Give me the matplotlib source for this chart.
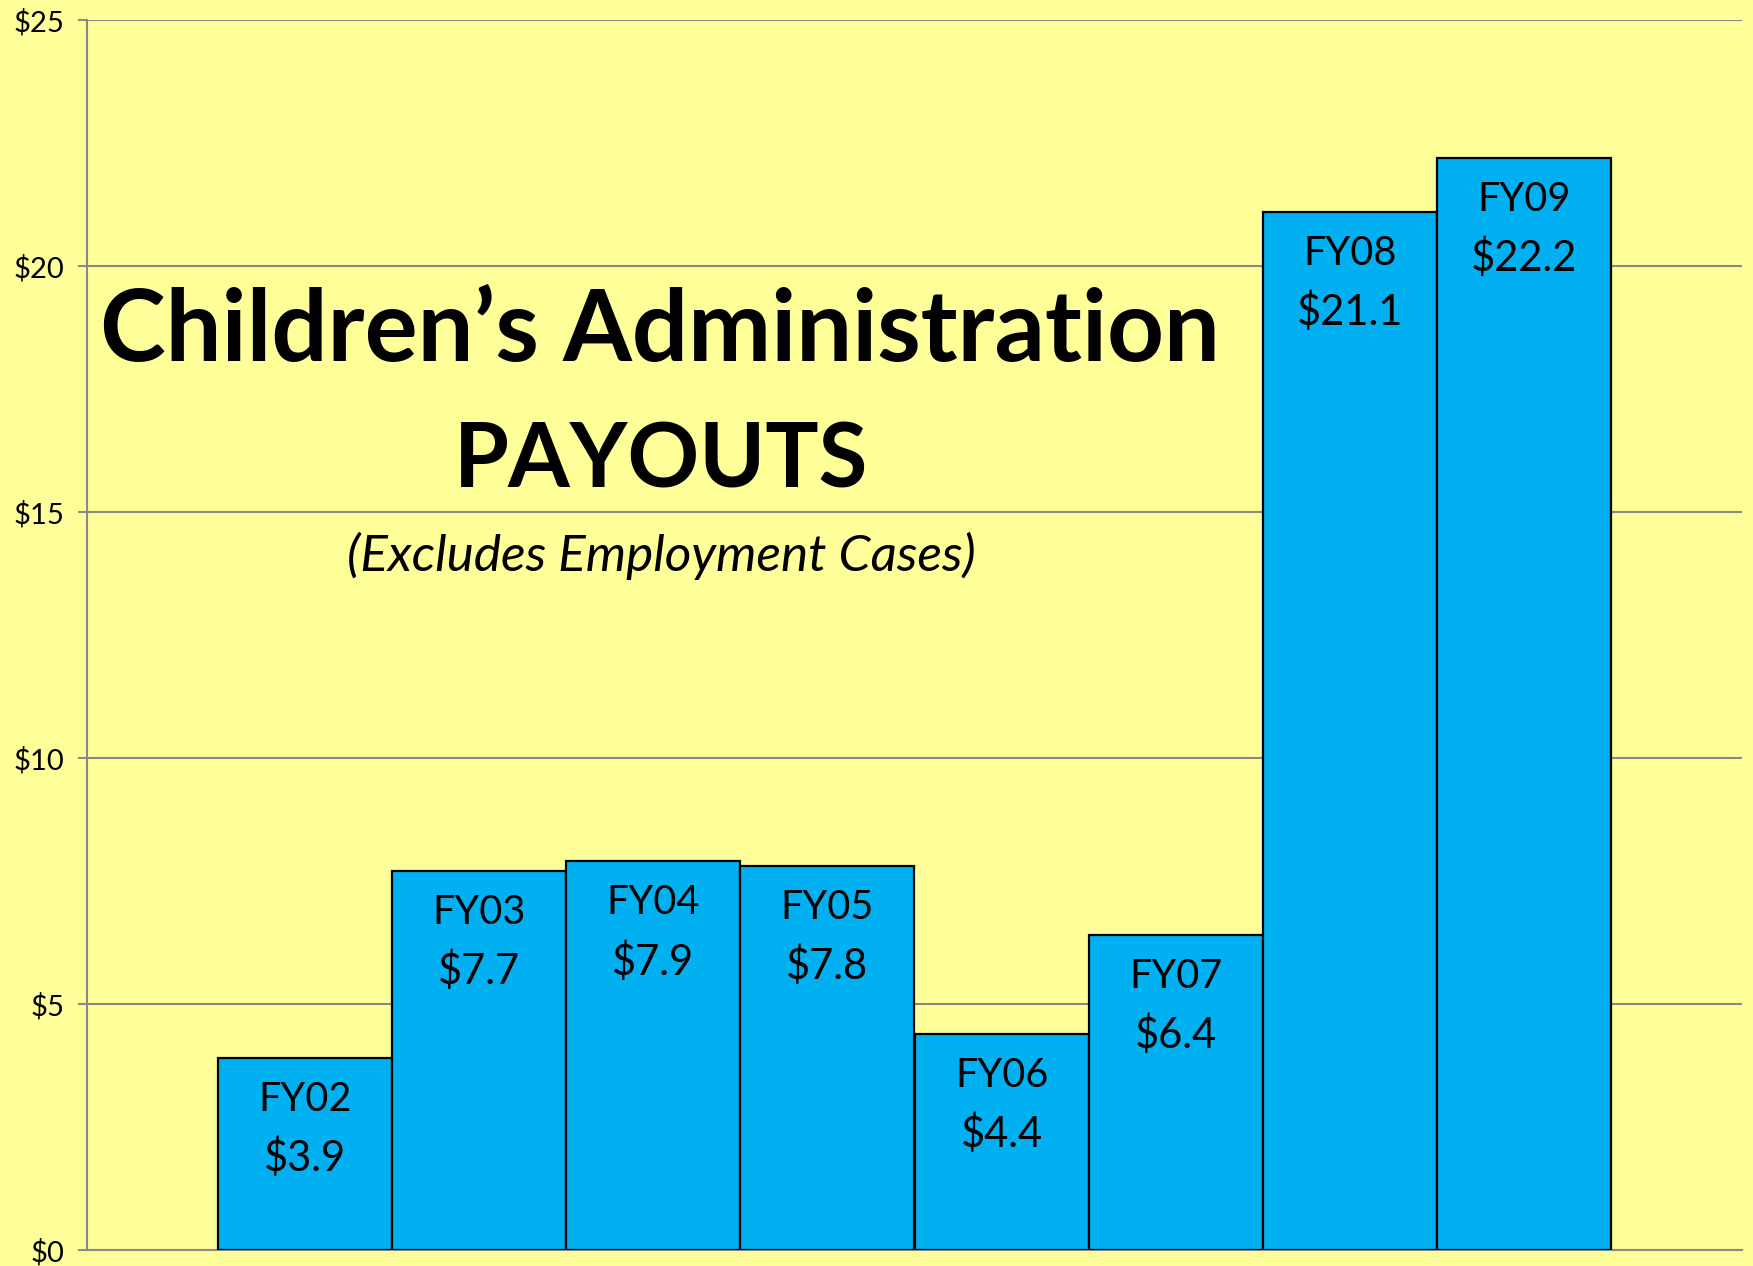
import matplotlib
matplotlib.use('Agg')
import matplotlib.pyplot as plt
from matplotlib.ticker import FuncFormatter

# data
years = ['FY02', 'FY03', 'FY04', 'FY05', 'FY06', 'FY07', 'FY08', 'FY09']
payouts = [3.9, 7.7, 7.9, 7.8, 4.4, 6.4, 21.1, 22.2]
y_ticks = [0, 5, 10, 15, 20, 25]

BG = '#FFFF99'
BAR = '#00B0F0'
GRID = '#898989'

plt.rcParams['font.family'] = ['Lato', 'DejaVu Sans']

fig = plt.figure(figsize=(17.53, 12.66), dpi=100, facecolor=BG)
ax = fig.add_axes([87 / 1753, 16 / 1266, (1742 - 87) / 1753, (1250 - 20) / 1266])
ax.set_facecolor(BG)

x = range(len(years))
ax.bar(x, payouts, width=1.0, color=BAR, edgecolor='black', linewidth=1.6, zorder=3)

for i, (lab, val) in enumerate(zip(years, payouts)):
    ax.annotate(lab, (i, val), xytext=(0, -30), textcoords='offset points',
                ha='center', va='center', fontsize=28.5, zorder=4)
    ax.annotate(f'${val:.1f}', (i, val), xytext=(0, -72), textcoords='offset points',
                ha='center', va='center', fontsize=30, zorder=4)

ax.set_xlim(-1.25, 8.25)
ax.set_ylim(0, 25)
ax.set_yticks(y_ticks)
ax.yaxis.set_major_formatter(FuncFormatter(lambda v, p: f'${v:.0f}'))
ax.set_xticks([])
ax.grid(axis='y', color=GRID, linewidth=1.5, zorder=0)
ax.tick_params(axis='y', direction='out', length=6.5, width=1.5, color=GRID,
               labelsize=21, pad=10)
for side in ['top', 'right']:
    ax.spines[side].set_visible(False)
for side in ['left', 'bottom']:
    ax.spines[side].set_color(GRID)
    ax.spines[side].set_linewidth(1.5)

ax.text(0.346, 0.746, 'Children\u2019s Administration', transform=ax.transAxes,
        ha='center', va='center', fontsize=71.5, fontweight='bold', zorder=5)
ax.text(0.347, 0.641, 'PAYOUTS', transform=ax.transAxes,
        ha='center', va='center', fontsize=64, fontweight='bold', zorder=5)
ax.text(0.347, 0.564, '(Excludes Employment Cases)', transform=ax.transAxes,
        ha='center', va='center', fontsize=37, fontstyle='italic', zorder=5)

fig.savefig('out.png', dpi=100, facecolor=BG)
